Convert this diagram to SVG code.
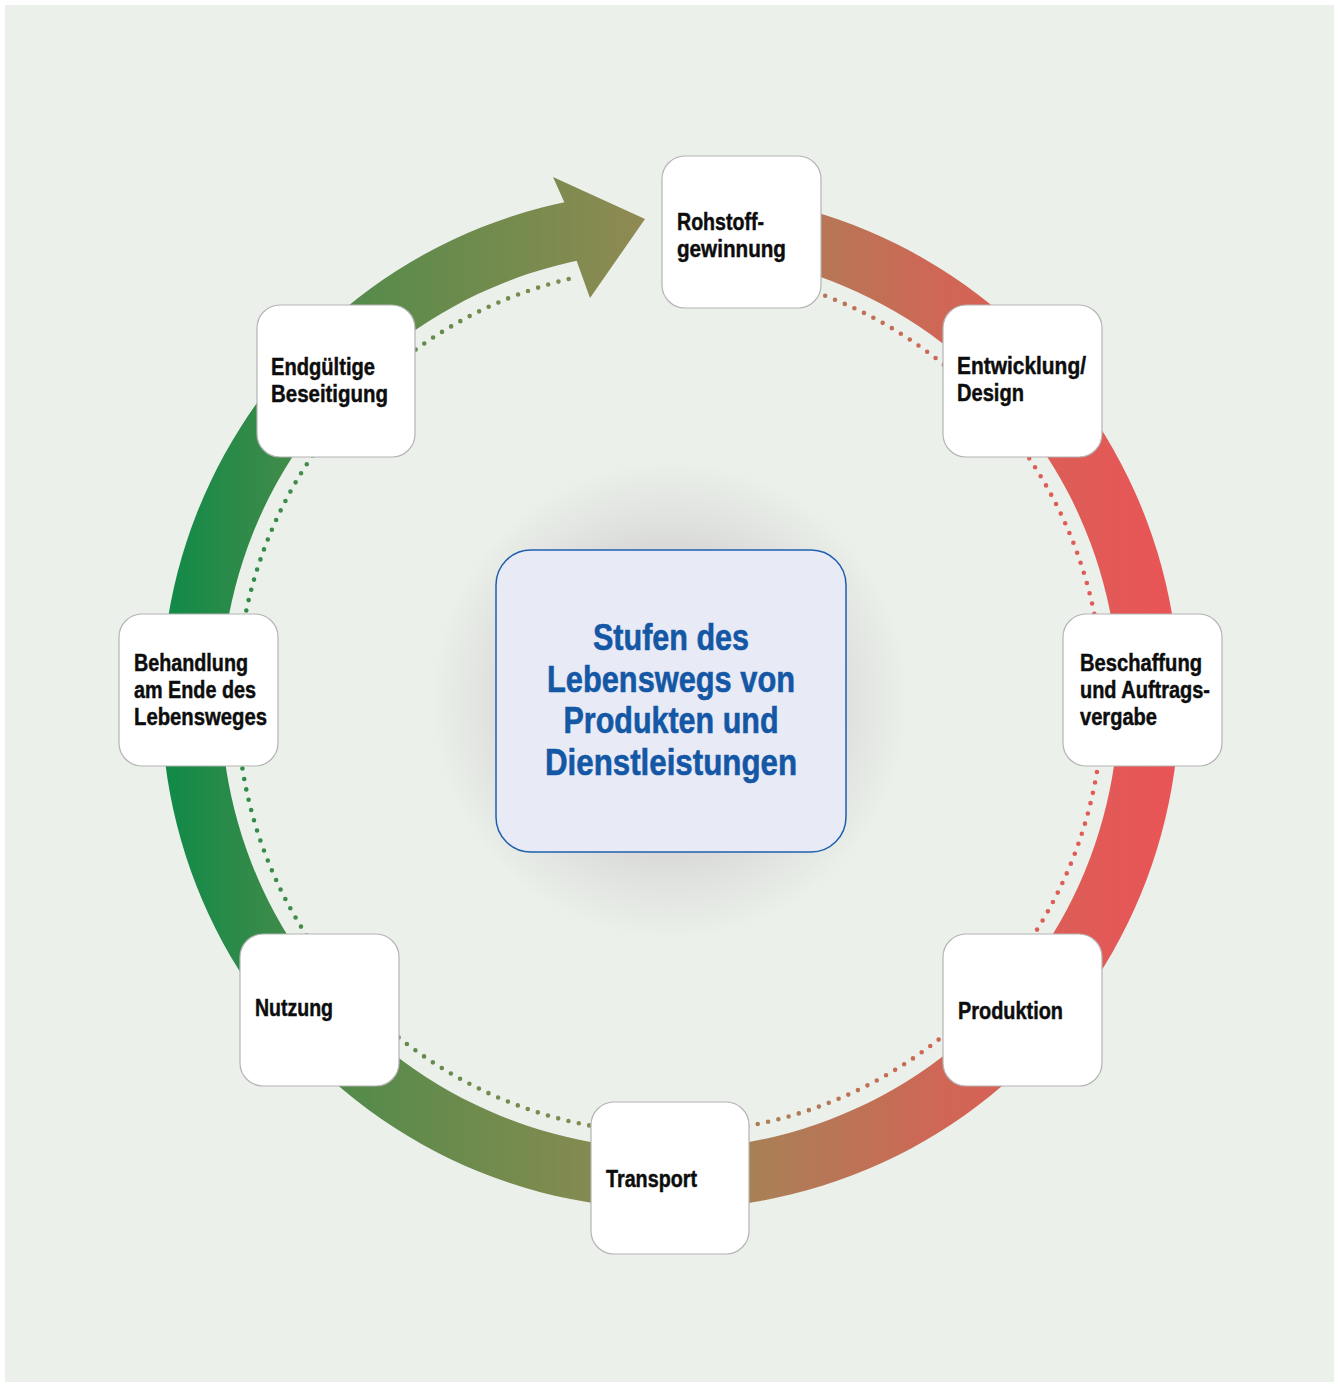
<svg xmlns="http://www.w3.org/2000/svg" width="1339" height="1385" viewBox="0 0 1339 1385">
<defs>
<linearGradient id="ring" gradientUnits="userSpaceOnUse" x1="165" y1="0" x2="1175" y2="0">
<stop offset="0" stop-color="#108a48"/>
<stop offset="0.16" stop-color="#4f8b4a"/>
<stop offset="0.33" stop-color="#738b4e"/>
<stop offset="0.47" stop-color="#8e8a52"/>
<stop offset="0.6" stop-color="#ac7e56"/>
<stop offset="0.77" stop-color="#d06656"/>
<stop offset="1" stop-color="#ea5457"/>
</linearGradient>
<radialGradient id="halo" gradientUnits="userSpaceOnUse" cx="670" cy="700" r="238">
<stop offset="0" stop-color="#cccccc"/>
<stop offset="0.65" stop-color="#dadbd9"/>
<stop offset="1" stop-color="#ebf0ea"/>
</radialGradient>
<style>
.box{fill:#ffffff;stroke:#b4b4b4;stroke-width:1.2}
.lbl{font-family:"Liberation Sans",Arial,sans-serif;font-weight:bold;font-size:23.5px;fill:#0d0d0d;stroke:#0d0d0d;stroke-width:0.45}
.title{font-family:"Liberation Sans",Arial,sans-serif;font-weight:bold;font-size:37px;fill:#1457a5;stroke:#1457a5;stroke-width:0.6}
</style>
</defs>
<rect x="0" y="0" width="1339" height="1385" fill="#ffffff"/>
<rect x="5" y="5" width="1329" height="1377" fill="#ebf0ea"/>
<circle cx="670" cy="700" r="238" fill="url(#halo)"/>
<g id="connectors">
<path d="M714.4,192.9 A509,509 0 1 1 572.9,200.4 L584.3,259.2 A449,449 0 1 0 709.1,252.7 Z" fill="url(#ring)"/>
<path d="M553,177 L645,219 L590,298 L576.6,260.8 L564.2,202.1 Z" fill="url(#ring)"/>
<path d="M825.2,295.8 A433,433 0 1 1 572.6,278.1" fill="none" stroke="url(#ring)" stroke-width="4.6" stroke-linecap="round" stroke-dasharray="0 10.6"/>
</g>
<g id="center">
<rect x="496" y="550" width="350" height="302" rx="35" fill="#e8ebf6" stroke="#1f5fae" stroke-width="1.5"/>
<text class="title" text-anchor="middle"><tspan x="671" y="650" textLength="156" lengthAdjust="spacingAndGlyphs">Stufen des</tspan><tspan x="671" y="692" textLength="248" lengthAdjust="spacingAndGlyphs">Lebenswegs von</tspan><tspan x="671" y="733" textLength="215" lengthAdjust="spacingAndGlyphs">Produkten und</tspan><tspan x="671" y="775" textLength="252" lengthAdjust="spacingAndGlyphs">Dienstleistungen</tspan></text>
</g>
<g id="rohstoff">
<rect class="box" x="662" y="156" width="159" height="152" rx="23"/>
<text class="lbl"><tspan x="677" y="230" textLength="87" lengthAdjust="spacingAndGlyphs">Rohstoff-</tspan><tspan x="677" y="257" textLength="109" lengthAdjust="spacingAndGlyphs">gewinnung</tspan></text>
</g>
<g id="entwicklung">
<rect class="box" x="943" y="305" width="159" height="152" rx="23"/>
<text class="lbl"><tspan x="957" y="374" textLength="129" lengthAdjust="spacingAndGlyphs">Entwicklung/</tspan><tspan x="957" y="401" textLength="67" lengthAdjust="spacingAndGlyphs">Design</tspan></text>
</g>
<g id="beschaffung">
<rect class="box" x="1063" y="614" width="159" height="152" rx="23"/>
<text class="lbl"><tspan x="1080" y="671" textLength="122" lengthAdjust="spacingAndGlyphs">Beschaffung</tspan><tspan x="1080" y="698" textLength="130" lengthAdjust="spacingAndGlyphs">und Auftrags-</tspan><tspan x="1080" y="725" textLength="77" lengthAdjust="spacingAndGlyphs">vergabe</tspan></text>
</g>
<g id="produktion">
<rect class="box" x="943" y="934" width="159" height="152" rx="23"/>
<text class="lbl"><tspan x="958" y="1019" textLength="105" lengthAdjust="spacingAndGlyphs">Produktion</tspan></text>
</g>
<g id="transport">
<rect class="box" x="591" y="1102" width="158" height="152" rx="23"/>
<text class="lbl"><tspan x="606" y="1187" textLength="91" lengthAdjust="spacingAndGlyphs">Transport</tspan></text>
</g>
<g id="nutzung">
<rect class="box" x="240" y="934" width="159" height="152" rx="23"/>
<text class="lbl"><tspan x="255" y="1016" textLength="78" lengthAdjust="spacingAndGlyphs">Nutzung</tspan></text>
</g>
<g id="behandlung">
<rect class="box" x="119" y="614" width="159" height="152" rx="23"/>
<text class="lbl"><tspan x="134" y="671" textLength="114" lengthAdjust="spacingAndGlyphs">Behandlung</tspan><tspan x="134" y="698" textLength="122" lengthAdjust="spacingAndGlyphs">am Ende des</tspan><tspan x="134" y="725" textLength="133" lengthAdjust="spacingAndGlyphs">Lebensweges</tspan></text>
</g>
<g id="endgueltig">
<rect class="box" x="257" y="305" width="158" height="152" rx="23"/>
<text class="lbl"><tspan x="271" y="375" textLength="104" lengthAdjust="spacingAndGlyphs">Endgültige</tspan><tspan x="271" y="402" textLength="117" lengthAdjust="spacingAndGlyphs">Beseitigung</tspan></text>
</g>
</svg>
